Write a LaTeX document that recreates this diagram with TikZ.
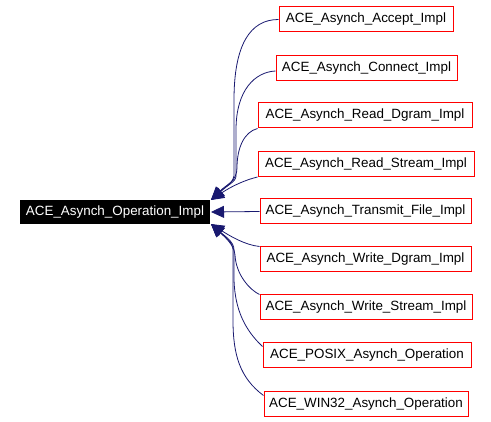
\documentclass[tikz,border=0pt]{standalone}
\usepackage{fontspec}
\setmainfont{Liberation Sans}
\usetikzlibrary{arrows.meta}
\definecolor{edgeblue}{HTML}{191970}
\begin{document}
\begin{tikzpicture}[x=1pt,y=-1pt,
  cls/.style={draw=red,line width=1pt,fill=white,inner sep=0pt,minimum height=25pt,
    font=\fontsize{13.4}{15}\selectfont,text=black},
  mainbox/.style={fill=black,inner sep=0pt,minimum width=190pt,minimum height=24pt,
    font=\fontsize{13.4}{15}\selectfont,text=white},
  edge/.style={draw=edgeblue,line width=0.8pt,-{Triangle[length=13pt,width=12pt]},fill=none}]
\useasboundingbox (0,0) rectangle (491,422);
\node[mainbox] (main) at (115,212) {ACE\_Asynch\_Operation\_Impl};
\node[cls,minimum width=174pt] (acc) at (366,19.5) {ACE\_Asynch\_Accept\_Impl};
\node[cls,minimum width=181pt] (con) at (366.5,68) {ACE\_Asynch\_Connect\_Impl};
\node[cls,minimum width=214pt] (rdg) at (365,115.5) {ACE\_Asynch\_Read\_Dgram\_Impl};
\node[cls,minimum width=216pt] (rst) at (366,164) {ACE\_Asynch\_Read\_Stream\_Impl};
\node[cls,minimum width=211pt] (trf) at (365.5,211.5) {ACE\_Asynch\_Transmit\_File\_Impl};
\node[cls,minimum width=211pt] (wdg) at (365.5,259.5) {ACE\_Asynch\_Write\_Dgram\_Impl};
\node[cls,minimum width=212pt] (wst) at (366,307.5) {ACE\_Asynch\_Write\_Stream\_Impl};
\node[cls,minimum width=208pt] (pos) at (367,355.5) {ACE\_POSIX\_Asynch\_Operation};
\node[cls,minimum width=204pt] (win) at (366,404.5) {ACE\_WIN32\_Asynch\_Operation};
\coordinate (tipT) at (211,200);
\coordinate (tipM) at (211,212);
\coordinate (tipB) at (211,224);
% top group
\draw[edge] (acc.west) .. controls (250,19.5) and (234,45) .. (234,100) -- (234,176) .. controls (234,182) and (225,186) .. (tipT);
\draw[edge] ([yshift=-3pt]con.west) .. controls (255,72) and (236,90) .. (236,130) -- (236,176) .. controls (236,182) and (226,186) .. (tipT);
\draw[edge] (rdg.south west) .. controls (244,132) and (237,148) .. (237,168) .. controls (237,180) and (227,186) .. (tipT);
\draw[edge] (rst.south west) .. controls (245,180) and (232,186) .. (tipT);
% middle
\draw[edge] (trf.west) -- (tipM);
% bottom group
\draw[edge] (wdg.north west) .. controls (245,245) and (230,236) .. (tipB);
\draw[edge] (wst.north west) .. controls (250,290) and (236,275) .. (235,255) .. controls (234,245) and (226,238) .. (tipB);
\draw[edge] ([yshift=-4pt]pos.north west) .. controls (245,330) and (235,310) .. (234,280) -- (234,250) .. controls (234,242) and (226,237) .. (tipB);
\draw[edge] ([yshift=-4pt]win.north west) .. controls (240,378) and (233,355) .. (233,320) -- (233,250) .. controls (233,242) and (225,237) .. (tipB);
\end{tikzpicture}
\end{document}
